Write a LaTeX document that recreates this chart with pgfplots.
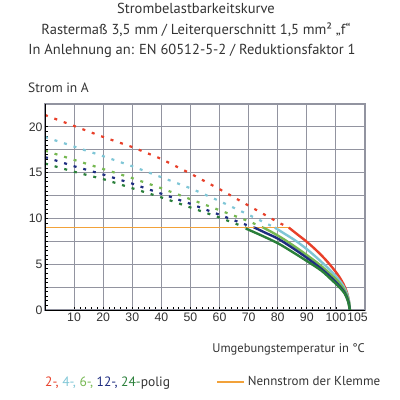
\documentclass[border=0pt]{standalone}
\usepackage{pgfplots}
\pgfplotsset{compat=1.18}
\usepackage{fontspec}
\setmainfont{PT Sans}
\newfontfamily\tickfont{Liberation Sans}
\definecolor{cRed}{HTML}{E8402A}
\definecolor{cLBlue}{HTML}{7FC6D6}
\definecolor{cLGreen}{HTML}{76B852}
\definecolor{cDBlue}{HTML}{1E2C80}
\definecolor{cDGreen}{HTML}{2A7F3A}
\definecolor{cOrange}{HTML}{F2A23A}
\definecolor{cText}{HTML}{333333}
\definecolor{cGrid}{HTML}{9294A0}
\begin{document}
\begin{tikzpicture}
\path[use as bounding box] (0pt,0pt) rectangle (400pt,400pt);
\node[anchor=base, font=\fontsize{14.5}{16}\selectfont, text=cText] at (196pt,386pt) {Strombelastbarkeitskurve};
\node[anchor=base, font=\fontsize{14.5}{16}\selectfont, text=cText] at (196pt,365pt) {Rastermaß 3,5 mm / Leiterquerschnitt 1,5 mm² „f“};
\node[anchor=base, font=\fontsize{14.5}{16}\selectfont, text=cText] at (192pt,345pt) {In Anlehnung an: EN 60512-5-2 / Reduktionsfaktor 1};
\node[anchor=base west, inner sep=0pt, font=\fontsize{13.5}{15}\selectfont, text=cText] at (28pt,307pt) {Strom in A};
\node[anchor=base east, inner sep=0pt, font=\fontsize{12.5}{15}\selectfont, text=cText] at (365pt,47pt) {Umgebungstemperatur in °C};
\node[anchor=base west, inner sep=0pt, font=\fontsize{13.5}{15}\selectfont] at (45pt,13pt) {\textcolor{cRed}{2-,} \textcolor{cLBlue}{4-,} \textcolor{cLGreen}{6-,} \textcolor{cDBlue}{12-,} \textcolor{cDGreen}{24-}\textcolor{cText}{polig}};
\begin{axis}[
  at={(45pt,90pt)}, anchor=south west,
  width=320pt, height=206pt, scale only axis,
  xmin=0, xmax=110, ymin=0, ymax=22.5,
  axis line style={draw=cGrid, line width=1.1pt},
  xmajorgrids=true, ymajorgrids=true,
  major grid style={draw=cGrid, line width=1.1pt, solid},
  xtick={10,20,...,100}, xticklabels={10,20,30,40,50,60,70,80,90,100},
  extra x ticks={105}, extra x tick labels={105},
  extra x tick style={xmajorgrids=false, xticklabel style={xshift=7pt}},
  ytick={0,2.5,...,20}, yticklabels={0,,5,,10,,15,,20},
  minor x tick num=4, minor y tick num=4,
  xtick pos=bottom, ytick pos=left,
  major tick style={draw=black, line width=0.8pt}, minor tick style={draw=black, line width=0.8pt},
  major tick length=3.5pt, minor tick length=3pt,
  tick label style={font=\fontsize{12.3}{13}\selectfont\tickfont, text=cText},
  /pgf/number format/assume math mode=true,
  xticklabel style={yshift=1pt}, yticklabel style={xshift=1pt},
  legend style={draw=none, fill=none, at={(0.525,-0.35)}, anchor=west, font=\fontsize{13}{15}\selectfont, text=cText},
  legend image code/.code={\draw[#1, line width=2.6pt] (0pt,0pt) -- (27pt,0pt);},
  dots/.style={line width=2.2pt, dash pattern=on 3pt off 7pt},
  sol/.style={line width=2.4pt, smooth, tension=0.5},
  after end axis/.code={\draw[black, line width=0.9pt] (rel axis cs:0,1) -- (rel axis cs:0,0) -- (rel axis cs:1,0);},
]
\addplot[cRed, dots, forget plot] coordinates {(0,21.3)(10,20.1)(20,18.9)(30,17.8)(40,16.5)(50,14.9)(60,13.2)(70,11.4)(80,9.6)(83.8,9.0)};
\addplot[cLBlue, dots, forget plot] coordinates {(0,18.9)(10,17.85)(20,16.8)(30,15.7)(40,14.5)(50,13.3)(60,11.9)(70,10.4)(79,9.0)};
\addplot[cLGreen, dots, forget plot] coordinates {(0,17.4)(10,16.4)(20,15.4)(30,14.4)(40,13.3)(50,12.1)(60,10.9)(70,9.7)(75,9.0)};
\addplot[cDBlue, dots, forget plot] coordinates {(0,16.7)(10,15.7)(20,14.8)(30,13.8)(40,12.7)(50,11.6)(60,10.4)(70,9.2)(72,9.0)};
\addplot[cDGreen, dots, forget plot] coordinates {(0,16.0)(10,15.1)(20,14.3)(30,13.3)(40,12.3)(50,11.2)(60,10.1)(69,9.0)};
\addplot[cOrange, line width=1.5pt] coordinates {(0,9)(83.8,9)};
\addlegendentry{Nennstrom der Klemme}
\addplot[cRed, sol, forget plot] coordinates {(83.8,9.0)(87,8.2)(90,7.45)(93,6.6)(96,5.65)(99,4.55)(101,3.7)(102.5,2.9)(103.7,2.0)(104.4,1.1)(104.8,0)};
\addplot[cLBlue, sol, forget plot] coordinates {(79,9.0)(82,8.4)(86,7.6)(90,6.65)(94,5.55)(98,4.35)(100.5,3.5)(102.5,2.65)(103.9,1.7)(104.6,0.8)(104.8,0)};
\addplot[cLGreen, sol, forget plot] coordinates {(75,9.0)(78,8.5)(82,7.75)(86,6.9)(90,6.0)(94,5.05)(98,3.95)(100.5,3.2)(102.5,2.4)(103.9,1.5)(104.6,0.7)(104.8,0)};
\addplot[cDBlue, sol, forget plot] coordinates {(72,9.0)(76,8.4)(80,7.8)(85,6.8)(90,5.7)(95,4.5)(98.5,3.5)(101,2.7)(103,1.9)(104.2,1.0)(104.8,0)};
\addplot[cDGreen, sol, forget plot] coordinates {(69,8.9)(74,8.2)(80,7.3)(85,6.35)(90,5.35)(95,4.3)(98.5,3.3)(101,2.55)(103,1.8)(104.2,0.9)(104.8,0)};
\end{axis}
\end{tikzpicture}
\end{document}
